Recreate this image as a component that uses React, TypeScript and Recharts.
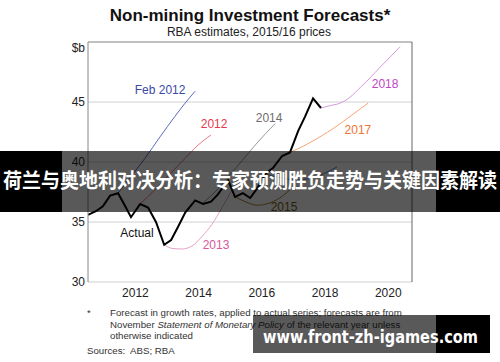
import React from 'react';
import { LineChart, Line, XAxis, YAxis, CartesianGrid, ReferenceDot, ReferenceLine } from 'recharts';

// decimal years / $b values
const actualYears = [2011.0, 2011.25, 2011.47, 2011.7, 2011.95, 2012.14, 2012.36, 2012.65, 2012.9, 2013.15, 2013.41, 2013.63, 2013.85, 2014.08, 2014.39, 2014.64, 2014.89, 2015.11, 2015.43, 2015.65, 2015.9, 2016.13, 2016.38, 2016.6, 2016.85, 2017.14, 2017.39, 2017.65, 2017.87, 2018.12, 2018.37];
const actualValues = [35.6, 35.9, 36.3, 37.2, 37.4, 36.5, 35.4, 36.5, 36.2, 35.0, 33.1, 33.5, 34.6, 35.8, 36.8, 36.5, 36.7, 37.3, 38.5, 37.1, 37.4, 37.0, 37.9, 39.0, 39.5, 40.5, 40.8, 42.6, 43.8, 45.3, 44.5];

const feb2012Years = [2011.95, 2012.33, 2012.8, 2013.28, 2013.75, 2014.07, 2014.39];
const feb2012Values = [37.4, 38.7, 40.3, 42.1, 43.8, 44.9, 45.9];

const nov2012Years = [2012.65, 2013.12, 2013.59, 2014.07, 2014.48, 2014.89];
const nov2012Values = [36.5, 37.7, 39.0, 40.3, 41.4, 42.25];

const nov2013Years = [2013.41, 2013.66, 2013.97, 2014.29, 2014.61, 2014.92, 2015.24, 2015.56, 2015.87];
const nov2013Values = [33.1, 32.8, 32.75, 33.0, 33.8, 34.8, 36.2, 37.7, 39.3];

const nov2014Years = [2014.64, 2015.02, 2015.43, 2015.87, 2016.32, 2016.63, 2016.92];
const nov2014Values = [36.6, 37.5, 38.75, 40.1, 41.5, 42.4, 43.2];

const nov2015Years = [2015.65, 2015.97, 2016.35, 2016.76, 2017.17, 2017.39];
const nov2015Values = [37.1, 36.7, 36.4, 36.6, 37.2, 37.7];

const nov2016Years = [2016.6, 2017.07, 2017.55, 2017.96, 2018.34, 2018.88];
const nov2016Values = [39.0, 38.7, 38.5, 38.6, 38.9, 39.6];

const nov2017Years = [2017.39, 2017.87, 2018.34, 2018.82, 2019.29, 2019.86];
const nov2017Values = [40.8, 41.4, 42.1, 42.9, 43.8, 44.9];

const nov2018Years = [2018.37, 2018.66, 2018.97, 2019.29, 2019.61, 2019.92, 2020.24, 2020.56, 2020.87];
const nov2018Values = [44.5, 44.7, 44.9, 45.4, 46.2, 47.0, 47.9, 48.75, 49.6];

const yearTicks = [2012, 2013, 2014, 2015, 2016, 2017, 2018, 2019, 2020, 2021];
const yearLabels = [2012.5, 2014.5, 2016.5, 2018.5, 2020.5];
const valueTicks = [30, 35, 40, 45, 50];

const toPoints = (xs: number[], ys: number[]) => xs.map((x, i) => ({ x, v: ys[i] }));

const FONT = '"Liberation Sans", Arial, sans-serif';

const series = [
  { name: 'Feb 2012', data: toPoints(feb2012Years, feb2012Values), color: '#5b68c2' },
  { name: '2012', data: toPoints(nov2012Years, nov2012Values), color: '#ee7482' },
  { name: '2013', data: toPoints(nov2013Years, nov2013Values), color: '#e3a3c8' },
  { name: '2014', data: toPoints(nov2014Years, nov2014Values), color: '#9a9a9a' },
  { name: '2015', data: toPoints(nov2015Years, nov2015Values), color: '#a8843c' },
  { name: '2016', data: toPoints(nov2016Years, nov2016Values), color: '#4f8fb8' },
  { name: '2017', data: toPoints(nov2017Years, nov2017Values), color: '#f6a676' },
  { name: '2018', data: toPoints(nov2018Years, nov2018Values), color: '#d897e0' },
];

const labels = [
  { text: 'Feb 2012', x: 2013.28, y: 46.0, color: '#3a48a8' },
  { text: '2012', x: 2014.99, y: 43.17, color: '#e8384c' },
  { text: '2014', x: 2016.73, y: 43.67, color: '#6e6e6e' },
  { text: '2018', x: 2020.4, y: 46.5, color: '#c046c6' },
  { text: '2017', x: 2019.54, y: 42.67, color: '#f07434' },
  { text: '2015', x: 2017.2, y: 36.25, color: '#7d5c14' },
  { text: '2013', x: 2015.05, y: 33.08, color: '#d9579c' },
  { text: 'Actual', x: 2012.55, y: 34.08, color: '#111' },
];

const YTick = (anchor: 'start' | 'end') => (p: any) => {
  const v = p.payload.value;
  return (
    <text x={p.x} y={p.y} dy={v === 50 ? 10 : 4} textAnchor={anchor} fontSize={12} fill="#222" fontFamily={FONT}>
      {v === 50 ? '$b' : v}
    </text>
  );
};

const App = () => {
  return (
    <div style={{ position: 'absolute', left: 0, top: 0, width: 500, height: 362, background: '#fff' }}>
      <LineChart width={500} height={362} margin={{ top: 42, right: 0, bottom: 60, left: 0 }}>
        <CartesianGrid vertical={false} stroke="#d0d0d0" />
        <XAxis
          type="number"
          dataKey="x"
          domain={[2011, 2021.25]}
          ticks={yearTicks}
          interval={0}
          allowDataOverflow
          mirror
          tick={false}
          tickSize={5}
          height={0}
          stroke="#444"
        />
        <XAxis
          xAxisId="lab"
          type="number"
          dataKey="x"
          domain={[2011, 2021.25]}
          ticks={yearLabels}
          interval={0}
          allowDataOverflow
          axisLine={false}
          tickLine={false}
          tickSize={0}
          tickMargin={6}
          height={20}
          tickFormatter={(v: number) => String(Math.floor(v))}
          tick={{ fontSize: 12, fill: '#222', fontFamily: FONT }}
        />
        <YAxis
          type="number"
          domain={[30, 50]}
          ticks={valueTicks}
          interval={0}
          width={88}
          tickLine={false}
          tickSize={0}
          tickMargin={3}
          stroke="#888"
          tick={YTick('end')}
        />
        <YAxis
          yAxisId="r"
          orientation="right"
          type="number"
          domain={[30, 50]}
          ticks={valueTicks}
          interval={0}
          width={88}
          tickLine={false}
          tickSize={0}
          tickMargin={2}
          stroke="#666"
          tick={YTick('start')}
        />
        <ReferenceLine y={50} stroke="#999" />
        {series.map((s) => (
          <Line
            key={s.name}
            data={s.data}
            dataKey="v"
            type="monotone"
            stroke={s.color}
            strokeWidth={1}
            dot={false}
            isAnimationActive={false}
          />
        ))}
        <Line
          data={toPoints(actualYears, actualValues)}
          dataKey="v"
          type="linear"
          stroke="#000"
          strokeWidth={2}
          dot={false}
          isAnimationActive={false}
        />
        {labels.map((l) => (
          <ReferenceDot
            key={l.text}
            x={l.x}
            y={l.y}
            r={0}
            fill="none"
            stroke="none"
            label={{ value: l.text, position: 'center', fill: l.color, fontSize: 12, fontFamily: FONT }}
          />
        ))}
      </LineChart>
      <svg width={500} height={362} style={{ position: 'absolute', left: 0, top: 0, pointerEvents: 'none' }}>
        <text x={250} y={21} textAnchor="middle" fontSize={17} fontWeight="bold" fontFamily={FONT} fill="#111">
          Non-mining Investment Forecasts*
        </text>
        <text x={249} y={36} textAnchor="middle" fontSize={12} fontFamily={FONT} fill="#222">
          RBA estimates, 2015/16 prices
        </text>
        <g fontSize={9.7} fontFamily={FONT} fill="#333">
          <text x={87} y={316}>*</text>
          <text x={110} y={316}>Forecast in growth rates, applied to actual series; forecasts are from</text>
          <text x={110} y={328}>
            November <tspan fontStyle="italic">Statement of Monetary Policy</tspan> of the relevant year unless
          </text>
          <text x={110} y={339}>otherwise indicated</text>
          <text x={87} y={354}>Sources:</text>
          <text x={130} y={354}>ABS; RBA</text>
        </g>
        <rect x={0} y={151} width={62} height={61} fill="#000" />
        <rect x={62} y={151} width={374} height={61} fill="rgba(0,0,0,0.65)" />
        <rect x={436} y={151} width={64} height={61} fill="#000" />
        <text
          x={3}
          y={188}
          fontSize={20}
          fontWeight="bold"
          fill="#fff"
          fontFamily='"Noto Sans CJK SC", sans-serif'
          textLength={494}
          lengthAdjust="spacingAndGlyphs"
        >
          荷兰与奥地利对决分析：专家预测胜负走势与关键因素解读
        </text>
        <rect x={253} y={315} width={183} height={38} fill="rgba(0,0,0,0.65)" />
        <rect x={436} y={315} width={54} height={38} fill="#000" />
        <text
          x={263}
          y={343}
          fontSize={18}
          fontWeight="bold"
          fill="#fff"
          fontFamily='"DejaVu Sans", sans-serif'
          textLength={215}
          lengthAdjust="spacingAndGlyphs"
        >
          www.front-zh-igames.com
        </text>
      </svg>
    </div>
  );
};

export default App;
